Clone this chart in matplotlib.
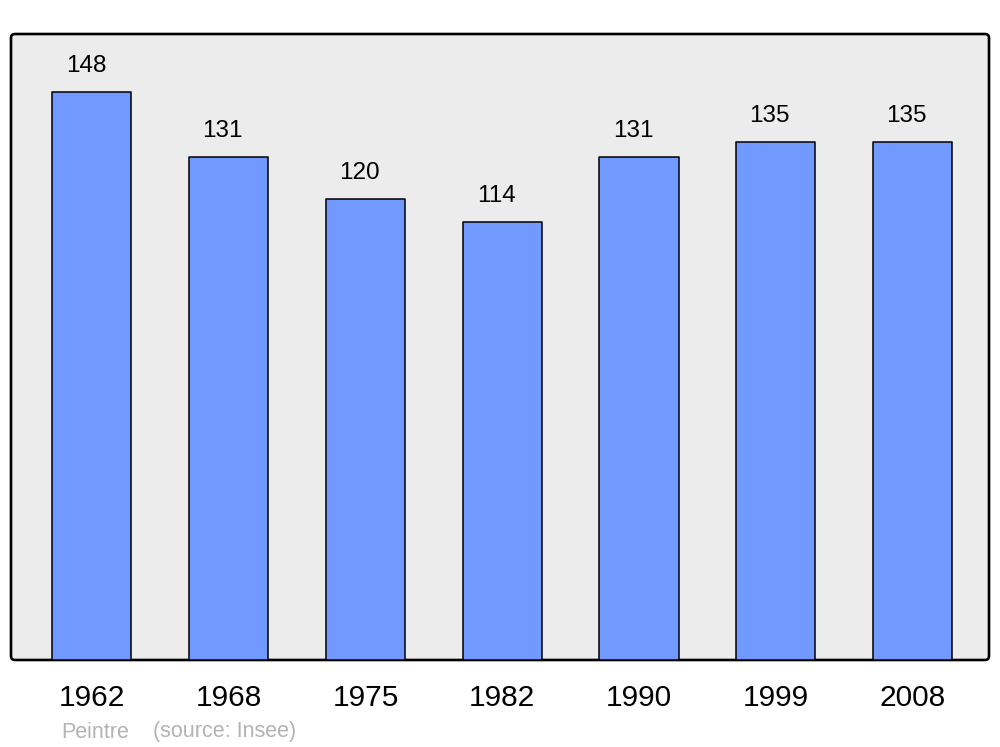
import matplotlib.pyplot as plt
from matplotlib.patches import FancyBboxPatch

years = ['1962', '1968', '1975', '1982', '1990', '1999', '2008']
population = [148, 131, 120, 114, 131, 135, 135]

plt.rcParams['font.family'] = ['Liberation Sans', 'DejaVu Sans']

fig = plt.figure(figsize=(10, 7.47), dpi=100)
ax = fig.add_axes([0.011, 87 / 747, 0.978, 626 / 747])
ax.set_facecolor('none')

# rounded grey frame behind the bars
frame = FancyBboxPatch((0.11, 0.87), 9.78, 6.26,
                       boxstyle='round,pad=0,rounding_size=0.04',
                       transform=fig.dpi_scale_trans,
                       facecolor='#ececec', edgecolor='black', linewidth=1.9,
                       zorder=-1)
fig.patches.append(frame)

x = range(len(years))
bars = ax.bar(x, population, width=0.578, color='#7299ff',
              edgecolor='black', linewidth=1.1, joinstyle='round', zorder=2)

for xi, v in zip(x, population):
    ax.annotate(str(v), (xi, v), xytext=(-6, 26), textcoords='offset pixels',
                ha='center', va='center', fontsize=17.5)

ax.set_xlim(-0.592, 6.559)
ax.set_ylim(0, 163.1)
for s in ax.spines.values():
    s.set_visible(False)
ax.set_yticks([])
ax.set_xticks(list(x))
ax.set_xticklabels(years, fontsize=21.5)
ax.tick_params(axis='x', length=0, pad=17)

fig.text(0.061, 1 - 732 / 747, 'Peintre', color='#b3b3b3', fontsize=15.5,
         ha='left', va='center')
fig.text(0.153, 1 - 732 / 747, '(source: Insee)', color='#b3b3b3', fontsize=15.5,
         ha='left', va='center')

fig.savefig('out.png', dpi=100)
